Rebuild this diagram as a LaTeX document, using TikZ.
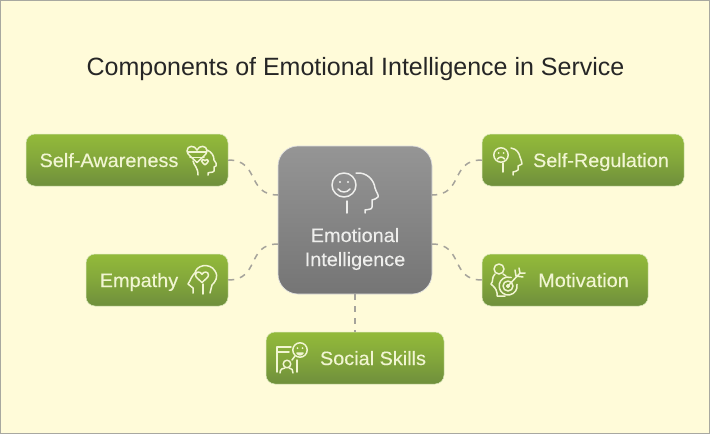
\documentclass[tikz,border=0pt]{standalone}
\usepackage{fontspec}
\setmainfont{Liberation Sans}
\newfontfamily\lblfont[FakeStretch=1.03,FakeBold=0.25]{Liberation Sans}
\definecolor{bgc}{HTML}{FFFBD9}
\definecolor{frm}{HTML}{A8A8A0}
\definecolor{gtop}{HTML}{93BA3A}
\definecolor{gbot}{HTML}{6F8F3C}
\definecolor{ctop}{HTML}{959595}
\definecolor{cbot}{HTML}{757575}
\definecolor{lnk}{HTML}{A5A39B}
\definecolor{gtxt}{HTML}{F1F5D2}
\definecolor{ctxt}{HTML}{EEEEEC}
\tikzset{
  x=1pt,y=-1pt,
  greenbox/.style={rectangle,rounded corners=9pt,top color=gtop,bottom color=gbot,middle color=gtop!55!gbot,draw=gtop!35!white,line width=.5pt,minimum height=52pt,inner sep=0pt},
  corebox/.style={rectangle,rounded corners=20pt,top color=ctop,bottom color=cbot,draw=ctop!30!white,line width=.7pt,minimum width=154pt,minimum height=148pt,inner sep=0pt},
  lbl/.style={text=gtxt,font=\lblfont\fontsize{19.3}{22}\selectfont,inner sep=0pt,anchor=base},
  corelbl/.style={text=ctxt,font=\lblfont\fontsize{19.3}{24}\selectfont,align=center,inner sep=0pt,anchor=base},
  titlelbl/.style={text=black!85,font=\fontsize{25}{28}\selectfont,inner sep=0pt,anchor=base},
  link/.style={draw=lnk,line width=1.5pt,dash pattern=on 6pt off 6pt},
  ico/.style={draw=gtxt,line width=1.5pt,line cap=round,line join=round,fill=none},
  icow/.style={draw=ctxt,line width=1.5pt,line cap=round,line join=round,fill=none}
}
\newcommand{\hrt}[4][ico]{\draw[#1] (#2,#3+#4*.85) .. controls (#2-#4*.5,#3+#4*.35) and (#2-#4,#3+#4*.05) .. (#2-#4,#3-#4*.3) .. controls (#2-#4,#3-#4*.9) and (#2-#4*.2,#3-#4*.9) .. (#2,#3-#4*.4) .. controls (#2+#4*.2,#3-#4*.9) and (#2+#4,#3-#4*.9) .. (#2+#4,#3-#4*.3) .. controls (#2+#4,#3+#4*.05) and (#2+#4*.5,#3+#4*.35) .. (#2,#3+#4*.85);}
\begin{document}
\begin{tikzpicture}
\useasboundingbox (0,0) rectangle (710,434);
\fill[bgc] (0,0) rectangle (710,434);
\draw[frm,line width=1pt] (.5,.5) rectangle (709.5,433.5);

\node[titlelbl] (title) at (355.5,75) {Components of Emotional Intelligence in Service};

\node[corebox] (core) at (355,220) {};
\node[greenbox,minimum width=202pt] (sa) at (127,160) {};
\node[greenbox,minimum width=142pt] (em) at (157,280) {};
\node[greenbox,minimum width=202pt] (sr) at (583,160) {};
\node[greenbox,minimum width=166pt] (mo) at (565,280) {};
\node[greenbox,minimum width=178pt] (so) at (355,358) {};

\node[lbl] (saT) at (109,167) {Self-Awareness};
\node[lbl] (emT) at (139,287) {Empathy};
\node[lbl] (srT) at (601,167) {Self-Regulation};
\node[lbl] (moT) at (583.5,287) {Motivation};
\node[lbl] (soT) at (373,365) {Social Skills};
\node[corelbl] (coT) at (355,266) {Emotional\\Intelligence};

\coordinate (cL1) at (278,195);
\coordinate (cL2) at (278,244);
\coordinate (cR1) at (432,195);
\coordinate (cR2) at (432,244);
\draw[link] (sa.east) .. controls +(32,0) and +(-32,0) .. (cL1);
\draw[link] (em.east) .. controls +(32,0) and +(-32,0) .. (cL2);
\draw[link] (sr.west) .. controls +(-32,0) and +(32,0) .. (cR1);
\draw[link] (mo.west) .. controls +(-32,0) and +(32,0) .. (cR2);
\draw[link] (core.south) -- (so.north);

% core icon
\draw[icow] (344,185) circle (12);
\fill[ctxt] (340,182) circle (1.1) (348,182) circle (1.1);
\draw[icow] (338,189) .. controls (341,193) and (347,193) .. (350,189);
\draw[icow] (347,201) -- (347,213);
\draw[icow] (356,173) .. controls (367,172) and (374,180) .. (375,188) .. controls (376,192) and (379,195) .. (378,197) .. controls (377,199) and (374,199) .. (372,200) -- (372,207) .. controls (372,210) and (368,209) .. (365,210) -- (365,213);

% self-awareness icon
\hrt{197}{154}{10}
\draw[ico] (188,152) -- (206,152) (190,157.5) -- (204,157.5);
\draw[ico] (193,161) .. controls (194,166) and (198,167) .. (198,175);
\draw[ico] (207,150) .. controls (212,152) and (214,156) .. (214,160) .. controls (215,163) and (218,164) .. (216,166) -- (214,167) -- (214,171) .. controls (213,173) and (209,172) .. (208,173) -- (208,175);
\hrt{205}{162}{3.4}

% empathy icon
\draw[ico] (195,274) .. controls (195,265) and (210,262) .. (215,271) .. controls (219,277) and (215,282) .. (212,285) -- (210,293);
\draw[ico] (196,272) .. controls (191,276) and (191,280) .. (188,284) -- (193,288) -- (193,293);
\hrt{202}{277}{6.5}
\draw[ico] (203,284) -- (203,294);

% social skills icon
\draw[ico] (277,372) -- (277,347) -- (291,347);
\draw[ico] (277,352) -- (289,352);
\draw[ico] (297,360) -- (297,372);
\draw[ico] (300,350) circle (7.2);
\fill[gtxt] (297.5,348) circle (1) (302.5,348) circle (1);
\draw[ico] (297,353) .. controls (298,355.5) and (302,355.5) .. (303,353) -- cycle;
\draw[ico] (295,356) -- (292,360);
\draw[ico] (287,364) circle (3.8);
\draw[ico] (280,373) .. controls (280,369) and (283,368) .. (285,368) (289,368) .. controls (292,368) and (293,370) .. (293,373);

% motivation icon
\draw[ico] (499,269) circle (5);
\draw[ico] (495,274) .. controls (491,278) and (494,281) .. (491,284) .. controls (494,287) and (496,288) .. (497,293) -- (497,296) -- (505,296);
\draw[ico] (503,274) -- (506,276);
\draw[ico] (517,284.4) arc[start angle=-10,end angle=290,radius=9];
\draw[ico] (508,286) circle (5);
\draw[ico] (508,286) circle (1.4);
\draw[ico] (508,286) -- (520,273) (515,270) -- (516,276) -- (523,277) (520,273) -- (519,268) (520,273) -- (525,273);

% self-regulation icon
\draw[ico] (501,155) circle (7.2);
\fill[gtxt] (498.5,153) circle (1) (503.5,153) circle (1);
\draw[ico] (497.5,159) .. controls (499,156.5) and (503,156.5) .. (504.5,159);
\draw[ico] (503,163) -- (503,172);
\draw[ico] (511,148) .. controls (517,149) and (519,153) .. (520,157) .. controls (520,160) and (523,162) .. (522,164) -- (518,166) -- (518,170) .. controls (517,172) and (514,171) .. (513,172) -- (513,175);
\end{tikzpicture}
\end{document}
